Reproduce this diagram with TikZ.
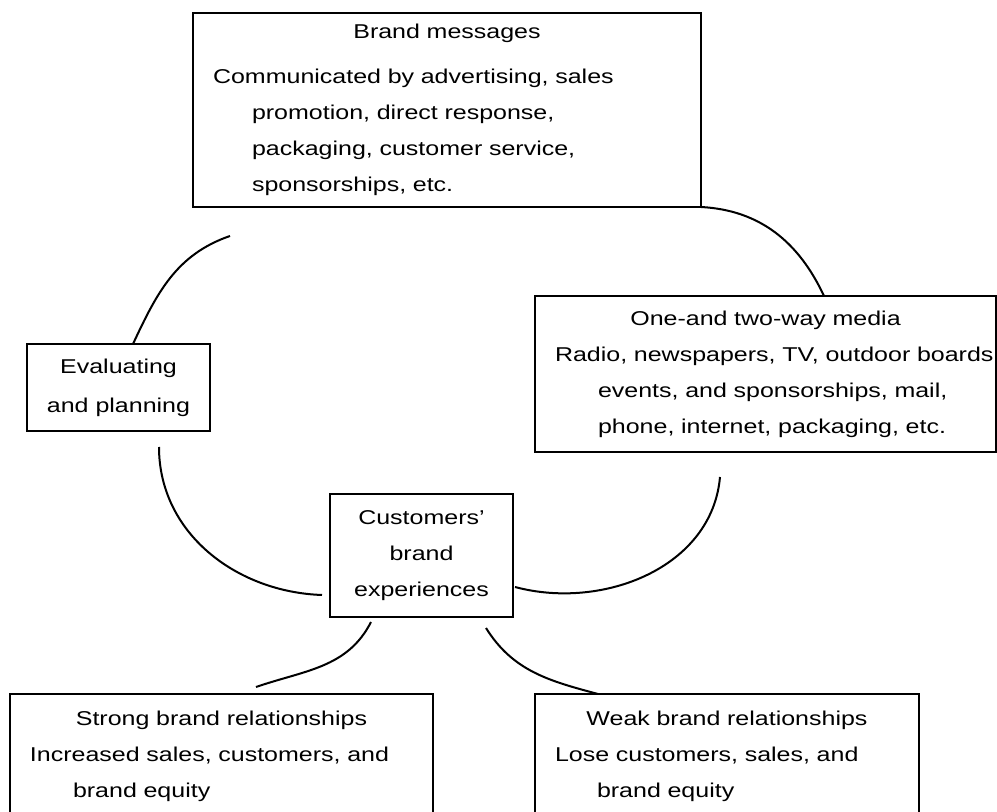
\documentclass[tikz,border=0pt]{standalone}
\usepackage{fontspec}
\setmainfont{Liberation Sans}[FakeStretch=1.25]

\begin{document}
\begin{tikzpicture}[
  x=1pt, y=1pt,
  box/.style={draw, line width=2pt, outer sep=0pt, align=left, inner xsep=20pt, inner ysep=0pt,
    font=\fontsize{20}{36}\selectfont},
  link/.style={line width=2pt}
]
\useasboundingbox (0,0) rectangle (997,812);
\clip (0,0) rectangle (997,812);
\node[box, text width=468pt, minimum height=194pt] (msg) at (447,702)
  {\makebox[\hsize]{Brand messages}\\[9pt]
   Communicated by advertising, sales\\
   \hspace*{39pt}promotion, direct response,\\
   \hspace*{39pt}packaging, customer service,\\
   \hspace*{39pt}sponsorships, etc.};
\node[box, align=center, inner xsep=0pt, minimum width=183pt, minimum height=87pt] (eval) at (118.5,424.5)
  {Evaluating\\[3pt] and planning};
\node[box, text width=421pt, minimum height=156pt] (media) at (765.5,438)
  {\makebox[\hsize]{One-and two-way media}\\
   \mbox{Radio, newspapers, TV, outdoor boards}\\
   \hspace*{43pt}events, and sponsorships, mail,\\
   \hspace*{43pt}phone, internet, packaging, etc.};
\node[box, align=center, inner xsep=0pt, minimum width=183pt, minimum height=123pt] (cust) at (421.5,256.5)
  {Customers’\\ brand\\ experiences};
\node[box, text width=383pt, minimum height=124pt] (strong) at (221.5,56)
  {\makebox[\hsize]{Strong brand relationships}\\
   Increased sales, customers, and\\
   \hspace*{43pt}brand equity};
\node[box, text width=344pt, minimum height=124pt] (weak) at (727,56)
  {\makebox[\hsize]{Weak brand relationships}\\
   Lose customers, sales, and\\
   \hspace*{42pt}brand equity};

\coordinate (msg-gap) at ([shift={(37pt,-29pt)}]msg.south west);
\coordinate (eval-gap) at ([shift={(40.5pt,-16pt)}]eval.south);
\coordinate (cust-w) at ([shift={(-8pt,-39.5pt)}]cust.west);
\coordinate (media-gap) at ([shift={(-45.5pt,-25pt)}]media.south);
\coordinate (cust-sl) at ([shift={(-50.5pt,-5pt)}]cust.south);
\coordinate (cust-sr) at ([shift={(64.5pt,-11pt)}]cust.south);
\coordinate (strong-gap) at ([shift={(34.5pt,7pt)}]strong.north);

\draw[link] (msg.south east) to[out=-3,in=115] ([xshift=58.5pt]media.north);
\draw[link] ([xshift=14.5pt]eval.north) to[out=65,in=199] (msg-gap);
\draw[link] (eval-gap) to[out=-90,in=178] (cust-w);
\draw[link] (media-gap) to[out=-95,in=-15] ([shift={(2pt,-31.5pt)}]cust.east);
\draw[link] (cust-sl) to[out=243,in=19] (strong-gap);
\draw[link] (cust-sr) to[out=-58,in=165] ([xshift=-129pt]weak.north);
\end{tikzpicture}
\end{document}
